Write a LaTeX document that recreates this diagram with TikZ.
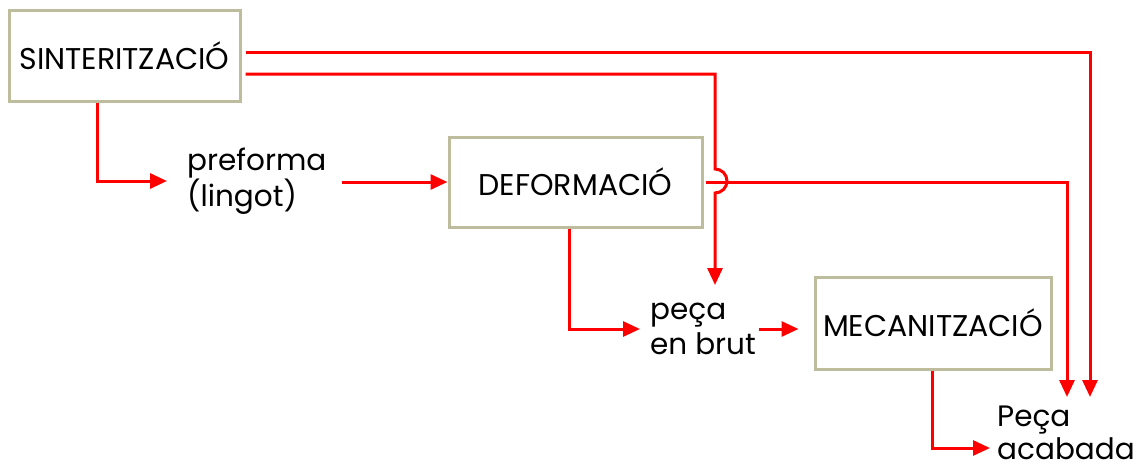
\documentclass[tikz,border=0pt]{standalone}
\usepackage{fontspec}
\setmainfont{Poppins}
\usetikzlibrary{arrows.meta}
\definecolor{boxc}{RGB}{189,189,158}
\definecolor{linec}{RGB}{255,0,0}
\tikzset{
  procbox/.style={draw=boxc, line width=3pt, fill=white, inner sep=0pt, font=\fontsize{30}{35}\selectfont},
  lbl/.style={inner sep=0pt, align=left, font=\fontsize{29.5}{35}\selectfont},
  arr/.style={draw=linec, line width=3pt, -{Triangle[length=17pt,width=15pt]}}
}
\begin{document}
\begin{tikzpicture}[x=1pt,y=-1pt]
\useasboundingbox (0,0) rectangle (1141,472);
\node[procbox, minimum width=231pt, minimum height=91pt] (sint) at (124.5,55.5) {SINTERITZACIÓ};
\node[procbox, minimum width=253pt, minimum height=90pt] (def) at (575.5,182) {DEFORMACIÓ};
\node[procbox, minimum width=236pt, minimum height=92pt] (mec) at (933,323) {MECANITZACIÓ};
\node[lbl, anchor=west] (pref) at (187,181) {preforma\\(lingot)};
\node[lbl, anchor=west] (brut) at (650,329) {peça\\en brut};
\node[lbl, anchor=north west, font=\fontsize{29.5}{33}\selectfont] (acab) at (997,406) {Peça\\acabada};
\coordinate (t1) at (1090,397);
\coordinate (t2) at (1067,397);
\coordinate (t3) at (715,285);
\coordinate (cross) at (715,181);
\draw[arr, shorten >=20pt] ([xshift=-27.5pt]sint.south) |- (pref.west);
\draw[arr, shorten <=15pt] (pref.east |- def.west) -- (def.west);
\draw[arr] ([xshift=4pt,yshift=3.5pt]sint.east) -| (t1);
\draw[arr] ([xshift=4pt,yshift=-18.5pt]sint.east) -| ([yshift=12pt]cross) arc[start angle=90, end angle=-90, radius=12pt] -- (t3);
\draw[arr] ([xshift=2pt]def.east) -| (t2);
\draw[arr, shorten >=10pt] ([xshift=-6.5pt]def.south) |- (brut.west);
\draw[arr, shorten <=3pt, shorten >=15pt] (brut.east) -- (brut.east -| mec.west);
\draw[arr, shorten >=7pt] ([xshift=-1pt]mec.south) |- (acab.west |- 0,448);
\end{tikzpicture}
\end{document}
